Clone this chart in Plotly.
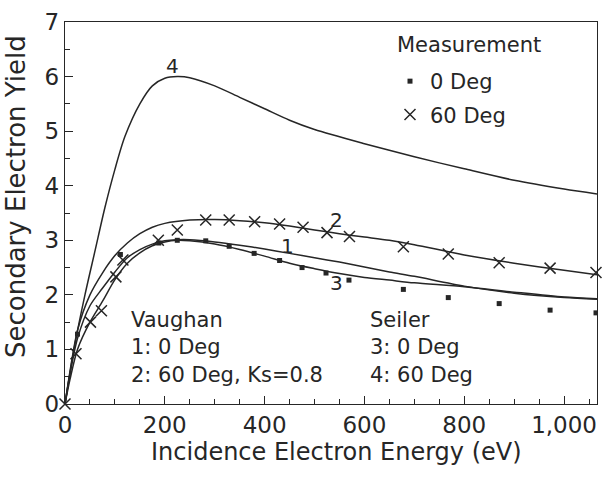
import plotly.graph_objects as go

# ---- data ----
# Curve 1: Vaughan, 0 Deg
c1_x = [0, 10, 25, 50, 75, 100, 125, 150, 175, 200, 225, 250, 300, 350, 400, 450, 500, 550, 600, 650, 700, 800, 900, 1000, 1066]
c1_y = [0, 0.55, 1.2, 1.8, 2.12, 2.42, 2.68, 2.83, 2.93, 2.99, 3.01, 3.01, 2.97, 2.91, 2.84, 2.76, 2.68, 2.6, 2.51, 2.42, 2.34, 2.16, 2.03, 1.95, 1.92]
# Curve 2: Vaughan, 60 Deg, Ks=0.8
c2_x = [0, 10, 25, 50, 75, 100, 125, 150, 175, 200, 250, 300, 350, 400, 450, 500, 550, 600, 650, 700, 800, 900, 1000, 1066]
c2_y = [0, 0.6, 1.35, 2.0, 2.4, 2.72, 2.95, 3.12, 3.24, 3.31, 3.37, 3.38, 3.36, 3.32, 3.26, 3.19, 3.12, 3.06, 3.0, 2.92, 2.73, 2.58, 2.45, 2.37]
# Curve 3: Seiler, 0 Deg
c3_x = [0, 10, 25, 50, 75, 100, 125, 150, 175, 200, 225, 250, 300, 350, 400, 450, 500, 550, 600, 650, 700, 800, 900, 1000, 1066]
c3_y = [0, 0.45, 1.0, 1.5, 1.88, 2.28, 2.58, 2.77, 2.9, 2.97, 3.0, 2.99, 2.93, 2.83, 2.71, 2.58, 2.48, 2.39, 2.32, 2.27, 2.22, 2.15, 2.05, 1.96, 1.93]
# Curve 4: Seiler, 60 Deg
c4_x = [0, 20, 40, 60, 80, 100, 120, 150, 175, 200, 225, 250, 300, 350, 400, 450, 500, 600, 700, 800, 900, 1000, 1066]
c4_y = [0, 1.1, 2.0, 2.8, 3.6, 4.3, 4.9, 5.5, 5.83, 5.97, 6.0, 5.98, 5.83, 5.62, 5.41, 5.2, 5.03, 4.77, 4.53, 4.31, 4.1, 3.94, 3.85]

# Measurements
m0_x = [25, 111, 188, 225, 282, 329, 379, 430, 475, 523, 569, 678, 768, 870, 972, 1064]
m0_y = [1.28, 2.74, 2.95, 3.0, 2.99, 2.89, 2.76, 2.63, 2.50, 2.40, 2.27, 2.10, 1.95, 1.84, 1.72, 1.67]
m60_x = [0, 22, 51, 73, 102, 116, 187, 225, 282, 329, 380, 430, 477, 525, 570, 678, 768, 870, 972, 1064]
m60_y = [0, 0.92, 1.5, 1.71, 2.33, 2.64, 3.0, 3.19, 3.37, 3.37, 3.34, 3.30, 3.24, 3.14, 3.07, 2.88, 2.75, 2.59, 2.49, 2.41]

curve_labels = ["1", "2", "3", "4"]
label_x = [446, 544, 544, 216]
label_y = [2.89, 3.38, 2.22, 6.19]

x_ticks = [0, 200, 400, 600, 800, 1000]
y_ticks = [0, 1, 2, 3, 4, 5, 6, 7]

INK = "#262626"
FONT = "DejaVu Sans"

fig = go.Figure()
for xs, ys, nm in [(c1_x, c1_y, "Vaughan 0 Deg"), (c2_x, c2_y, "Vaughan 60 Deg"),
                   (c3_x, c3_y, "Seiler 0 Deg"), (c4_x, c4_y, "Seiler 60 Deg")]:
    fig.add_trace(go.Scatter(x=xs, y=ys, mode="lines", name=nm, showlegend=False,
                             line=dict(color=INK, width=1.5, shape="spline", smoothing=0.8)))

fig.add_trace(go.Scatter(x=m0_x, y=m0_y, mode="markers", name="0 Deg", legendgroup="a",
                         marker=dict(symbol="square", size=5, color=INK)))
fig.add_trace(go.Scatter(x=m60_x, y=m60_y, mode="markers", name="60 Deg", legendgroup="b",
                         cliponaxis=False,
                         marker=dict(symbol="x-thin", size=11, color=INK,
                                     line=dict(color=INK, width=1.5))))

for t, lx, ly in zip(curve_labels, label_x, label_y):
    fig.add_annotation(x=lx, y=ly, text=t, showarrow=False,
                       font=dict(family=FONT, size=20, color=INK))

fig.add_annotation(x=128, y=1.04, xanchor="left", yanchor="middle", align="left", showarrow=False,
                   text="Vaughan<br>1: 0 Deg<br>2: 60 Deg, Ks=0.8",
                   font=dict(family=FONT, size=21, color=INK))
fig.add_annotation(x=608, y=1.04, xanchor="left", yanchor="middle", align="left", showarrow=False,
                   text="Seiler<br>3: 0 Deg<br>4: 60 Deg",
                   font=dict(family=FONT, size=21, color=INK))

# legend heading
fig.add_annotation(xref="paper", yref="paper", x=(395 - 65) / 532, y=(404 - 45) / 382,
                   xanchor="left", yanchor="middle", showarrow=False, text="Measurement",
                   font=dict(family=FONT, size=21, color=INK))
# axis titles
fig.add_annotation(xref="paper", yref="paper", x=(16 - 65) / 532, y=(404 - 197) / 382,
                   xanchor="center", yanchor="middle", textangle=-90, showarrow=False,
                   text="Secondary Electron Yield",
                   font=dict(family=FONT, size=26, color=INK))
fig.add_annotation(xref="paper", yref="paper", x=(336 - 65) / 532, y=(404 - 452) / 382,
                   xanchor="center", yanchor="middle", showarrow=False,
                   text="Incidence Electron Energy (eV)",
                   font=dict(family=FONT, size=24, color=INK))

axis_common = dict(showgrid=False, zeroline=False, showline=True, mirror=True,
                   linecolor=INK, linewidth=1.3, ticks="inside", ticklen=8, tickwidth=1.2,
                   tickcolor=INK, tickfont=dict(family=FONT, size=23, color=INK))

fig.update_xaxes(range=[0, 1066], tickvals=x_ticks, tickformat=",d",
                 minor=dict(dtick=50, tick0=0, ticks="inside", ticklen=5, tickcolor=INK, tickwidth=1.1),
                 **axis_common)
fig.update_yaxes(range=[0, 7], tickvals=y_ticks,
                 minor=dict(dtick=0.5, tick0=0, ticks="inside", ticklen=5, tickcolor=INK, tickwidth=1.1),
                 **axis_common)

fig.update_layout(
    width=603, height=485,
    margin=dict(l=65, r=6, t=22, b=81),
    paper_bgcolor="white", plot_bgcolor="white",
    legend=dict(x=(390 - 65) / 532, y=(404 - 61) / 382, xanchor="left", yanchor="top",
                bgcolor="rgba(0,0,0,0)",
                font=dict(family=FONT, size=21, color=INK), tracegroupgap=3,
                traceorder="grouped", itemwidth=30),
)

fig.write_html("out.html", config={"displayModeBar": False},
               post_script="document.body.style.margin='0';")
